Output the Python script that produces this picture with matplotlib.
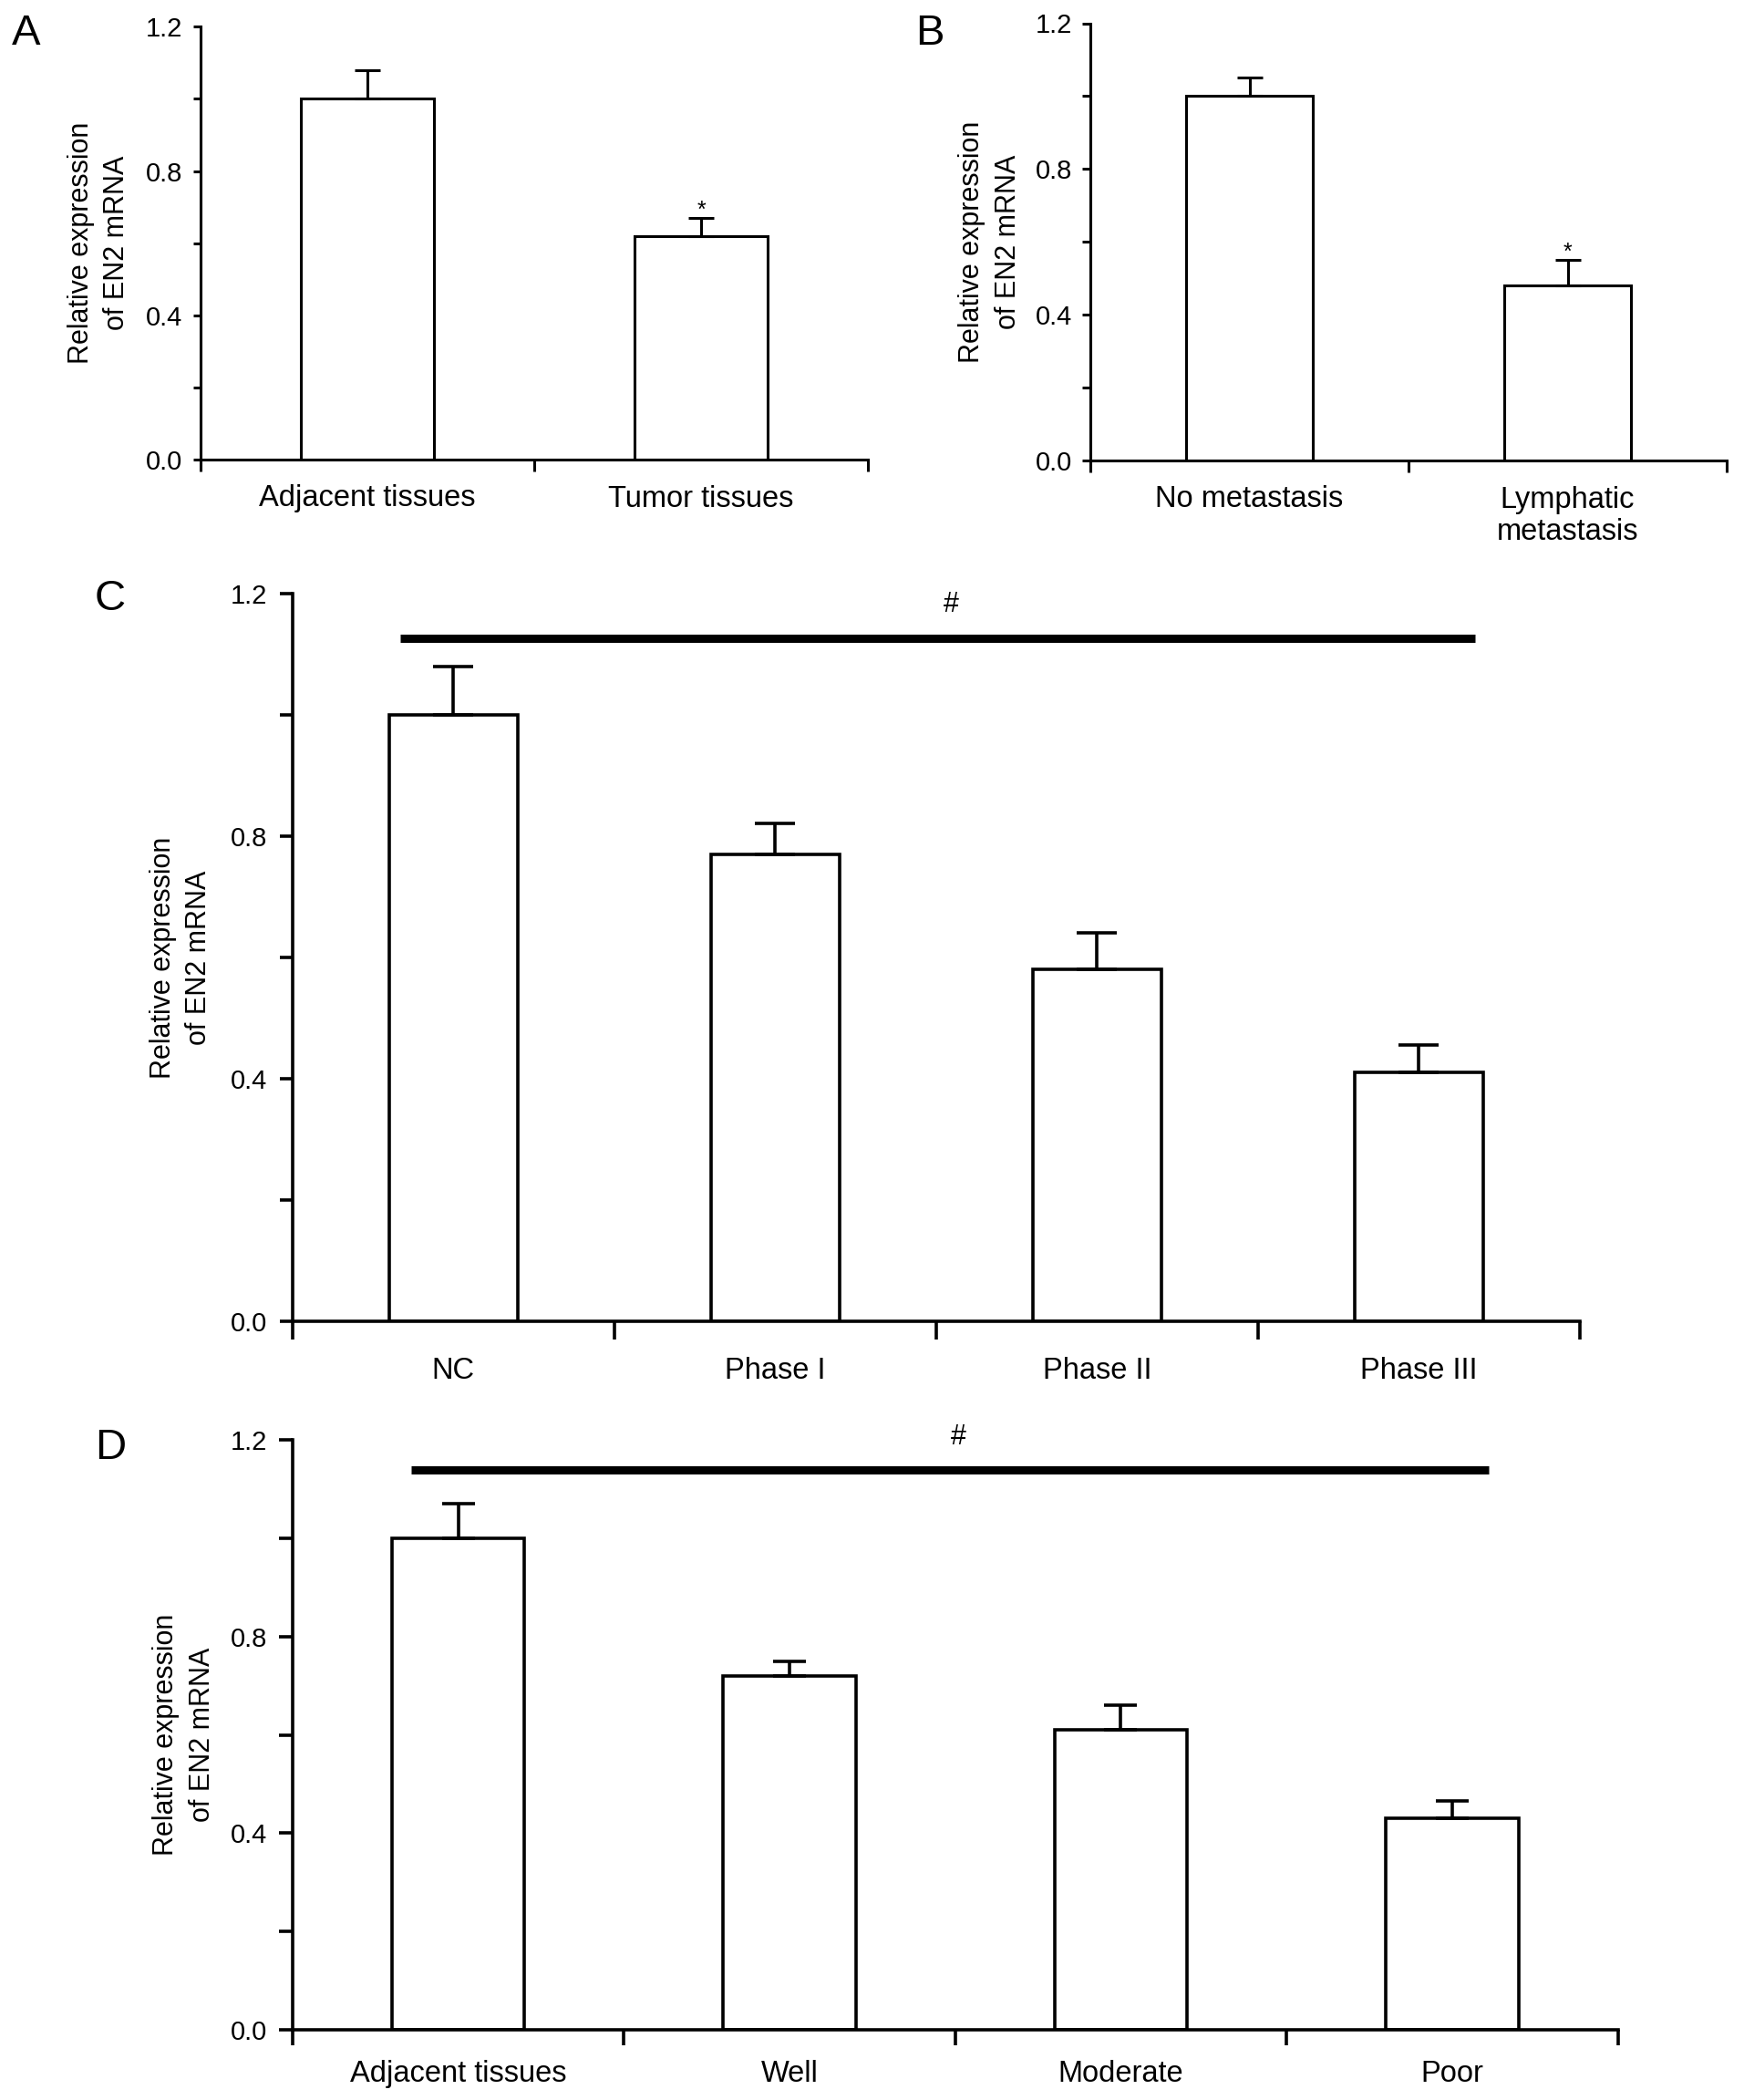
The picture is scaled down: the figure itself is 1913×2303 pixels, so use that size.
import numpy as np
import matplotlib
matplotlib.use('agg')
import matplotlib.pyplot as plt

plt.rcParams['font.family'] = ['Liberation Sans', 'DejaVu Sans']

# figure size in pixels (dpi 100)
FIG_W, FIG_H = 1913, 2303
TICKFONT = 21
CATFONT = 23.5
LABFONT = 22
LETTERFONT = 34

# Panel A
a_labels = ['Adjacent tissues', 'Tumor tissues']
a_vals = [1.0, 0.62]
a_errs = [0.08, 0.05]
# Panel B
b_labels = ['No metastasis', 'Lymphatic\nmetastasis']
b_vals = [1.0, 0.48]
b_errs = [0.05, 0.07]
# Panel C
c_labels = ['NC', 'Phase I', 'Phase II', 'Phase III']
c_vals = [1.0, 0.77, 0.58, 0.41]
c_errs = [0.08, 0.05, 0.06, 0.045]
# Panel D
d_labels = ['Adjacent tissues', 'Well', 'Moderate', 'Poor']
d_vals = [1.0, 0.72, 0.61, 0.43]
d_errs = [0.07, 0.03, 0.05, 0.035]

yticks = [0.0, 0.4, 0.8, 1.2]
yminor = [0.2, 0.6, 1.0]
ylabel = 'Relative expression\nof EN2 mRNA'


def px_box(left, top, right, bottom):
    return [left / FIG_W, 1 - bottom / FIG_H, (right - left) / FIG_W, (bottom - top) / FIG_H]


def fx(px):
    return px / FIG_W


def fy(py):
    return 1 - py / FIG_H


def draw_panel(ax, labels, vals, errs, lw, ylen, xlen, capsize, ypad, xpad):
    n = len(vals)
    x = np.arange(n)
    ax.bar(x, vals, width=0.4, color='white', edgecolor='black', linewidth=lw, zorder=2)
    ax.errorbar(x, vals, yerr=[np.zeros(n), errs], fmt='none', ecolor='black',
                elinewidth=lw, capsize=capsize, capthick=lw, zorder=3)
    ax.set_xlim(-0.5, n - 0.5)
    ax.set_ylim(0, 1.2)
    for s in ['top', 'right']:
        ax.spines[s].set_visible(False)
    for s in ['left', 'bottom']:
        ax.spines[s].set_linewidth(lw)
    ax.set_yticks(yticks)
    ax.set_yticklabels(['%.1f' % v for v in yticks])
    ax.set_yticks(yminor, minor=True)
    ax.tick_params(axis='y', which='both', direction='out', length=ylen, width=lw,
                   labelsize=TICKFONT, pad=ypad)
    ax.set_xticks(np.arange(n + 1) - 0.5)
    ax.set_xticklabels([])
    ax.set_xticks(x, minor=True)
    ax.set_xticklabels(labels, minor=True, fontsize=CATFONT)
    ax.tick_params(axis='x', which='major', direction='out', length=xlen, width=lw)
    ax.tick_params(axis='x', which='minor', length=0, pad=xpad)


fig = plt.figure(figsize=(FIG_W / 100, FIG_H / 100), dpi=100)

axA = fig.add_axes(px_box(220, 29.3, 952, 504))
draw_panel(axA, a_labels, a_vals, a_errs, 2.2, 6, 9, 10, 8, 19.8)
axA.text(1, a_vals[1] + a_errs[1] + 0.02, '*', ha='center', va='center', fontsize=18)

axB = fig.add_axes(px_box(1196, 25.5, 1894, 505))
draw_panel(axB, b_labels, b_vals, b_errs, 2.2, 6.5, 9, 10, 8, 19.8)
axB.text(1, b_vals[1] + b_errs[1] + 0.02, '*', ha='center', va='center', fontsize=18)

axC = fig.add_axes(px_box(320.7, 650.7, 1733, 1449))
draw_panel(axC, c_labels, c_vals, c_errs, 2.6, 10, 14.4, 16, 9.6, 28)
axC.plot([-0.166, 3.173], [1.126, 1.126], color='black', lw=6.5,
         solid_capstyle='butt', clip_on=False)
axC.text(1.546, 1.181, '#', ha='center', va='center', fontsize=22)

axD = fig.add_axes(px_box(321, 1579, 1774.6, 2226))
draw_panel(axD, d_labels, d_vals, d_errs, 2.6, 11, 12, 13, 9, 23.7)
axD.plot([-0.141, 3.110], [1.138, 1.138], color='black', lw=6.5,
         solid_capstyle='butt', clip_on=False)
axD.text(1.51, 1.205, '#', ha='center', va='center', fontsize=22)

# y labels
for cx, cy in [(108.7, 266.6), (1086, 265), (198.3, 1050), (202, 1902)]:
    fig.text(fx(cx), fy(cy), ylabel, rotation=90, ha='center', va='center',
             multialignment='center', fontsize=LABFONT, linespacing=1.4)

# panel letters
for letter, cx, cy in [('A', 28.5, 36.7), ('B', 1020, 37), ('C', 121, 657), ('D', 121, 1588)]:
    fig.text(fx(cx), fy(cy), letter, ha='center', va='center', fontsize=LETTERFONT)

fig.savefig('out.png', dpi=100)
